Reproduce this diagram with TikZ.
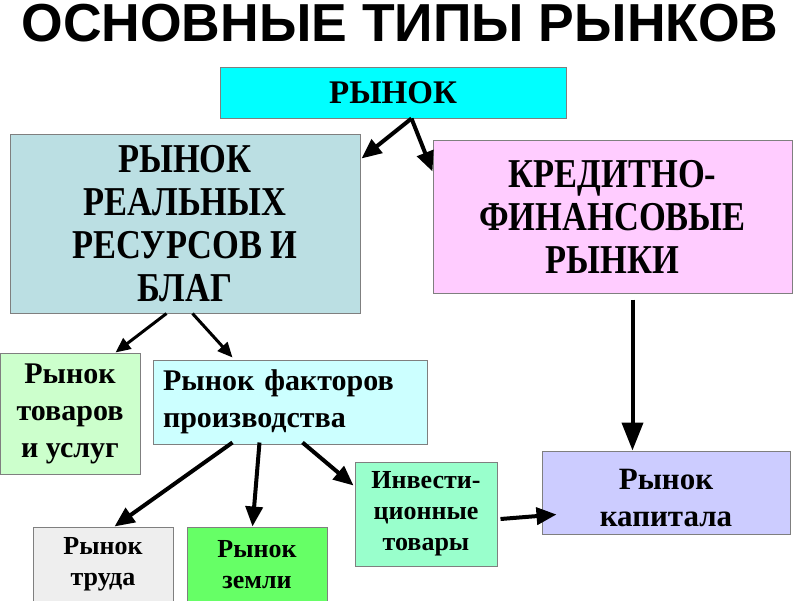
\documentclass[tikz,border=0pt]{standalone}
\usepackage{fontspec}
\setmainfont{Liberation Serif}
\newfontfamily\titlefont{Liberation Sans}
\newfontfamily\narrowserif[FakeStretch=0.84]{Liberation Serif}
\usetikzlibrary{arrows.meta,calc}
\definecolor{cCyan}{HTML}{00FFFF}
\definecolor{cReal}{HTML}{BBDFE3}
\definecolor{cPink}{HTML}{FFCCFF}
\definecolor{cTov}{HTML}{CCFFCC}
\definecolor{cFak}{HTML}{CCFFFF}
\definecolor{cTrud}{HTML}{EEEEEE}
\definecolor{cZem}{HTML}{66FF66}
\definecolor{cInv}{HTML}{99FFCC}
\definecolor{cKap}{HTML}{CCCCFF}
\definecolor{cBord}{HTML}{7F7F7F}
\tikzset{
  box/.style={draw=cBord, line width=1pt, inner sep=0pt, align=center},
  bigtext/.style={font=\narrowserif\bfseries\fontsize{41}{43}\selectfont},
  midtext/.style={font=\bfseries\fontsize{30}{37}\selectfont},
  smalltext/.style={font=\bfseries\fontsize{26}{31}\selectfont},
  arr/.style={line width=4pt, -{Triangle[length=20pt,width=17pt]}},
  arrthin/.style={line width=3pt, -{Triangle[length=15pt,width=13pt]}},
  arrlong/.style={line width=4pt, -{Triangle[length=28pt,width=21pt]}}
}
\begin{document}
\begin{tikzpicture}[x=1pt,y=-1pt]
\useasboundingbox[fill=white] (0,0) rectangle (800,600);
\node[font=\titlefont\bfseries\fontsize{53.5}{54}\selectfont] (title) at (400,23) {ОСНОВНЫЕ ТИПЫ РЫНКОВ};

\node[box, fill=cCyan, minimum width=346pt, minimum height=51pt,
      font=\bfseries\fontsize{33}{33}\selectfont] (top) at (393,92.5) {РЫНОК};
\node[box, fill=cReal, minimum width=350pt, minimum height=179pt, bigtext] (real) at (185,223.5)
  {РЫНОК\\РЕАЛЬНЫХ\\РЕСУРСОВ И\\БЛАГ};
\node[box, fill=cPink, minimum width=359pt, minimum height=153pt, bigtext] (cred) at (612.5,216.5)
  {КРЕДИТНО-\\ФИНАНСОВЫЕ\\РЫНКИ};
\node[box, fill=cTov, minimum width=140pt, minimum height=121pt, midtext] (tov) at (70,413.5)
  {Рынок\\товаров\\и услуг};
\node[box, fill=cFak, minimum width=274pt, minimum height=84pt, midtext, align=left, text width=254pt] (fak) at (290,402)
  {Рынок факторов\\производства};
\node[box, fill=cTrud, minimum width=140pt, minimum height=75pt, smalltext] (trud) at (103,564.5)
  {Рынок\\труда};
\node[box, fill=cZem, minimum width=140pt, minimum height=75pt, smalltext] (zem) at (257,564.5)
  {Рынок\\земли};
\node[box, fill=cInv, minimum width=142pt, minimum height=104pt, smalltext] (inv) at (426,514)
  {Инвести-\\ционные\\товары};
\node[box, fill=cKap, minimum width=248pt, minimum height=83pt] (kap) at (666,492.5) {};
\node[font=\bfseries\fontsize{31}{37}\selectfont, align=center, inner sep=0pt] (kaptext) at ($(kap.center)+(0,5)$)
  {Рынок\\капитала};

\coordinate (topfoot) at ($(top.south west)+(192,0)$);
\draw[arr] (topfoot) -- ($(real.north east)+(1,25)$);
\draw[arr] (topfoot) -- ($(cred.north west)+(0,32)$);
\draw[arrthin] ($(real.south west)+(157,0)$) -- ($(tov.north east)+(-25,0)$);
\draw[arrthin] ($(real.south west)+(183,0)$) -- ($(fak.north west)+(80,-2)$);
\draw[arrlong] ($(cred.south west)+(200,6)$) -- ($(kap.north west)+(91,0)$);
\draw[arr] ($(fak.south west)+(80,-2)$) -- ($(trud.north west)+(82,0)$);
\draw[arr] ($(fak.south west)+(107,-2)$) -- ($(zem.north west)+(66,0)$);
\draw[arr] ($(fak.south west)+(150,-2)$) -- ($(inv.north west)+(-1,24)$);
\draw[arr] ($(inv.east)+(3,5)$) -- ($(kap.west)+(15,22)$);
\end{tikzpicture}
\end{document}
